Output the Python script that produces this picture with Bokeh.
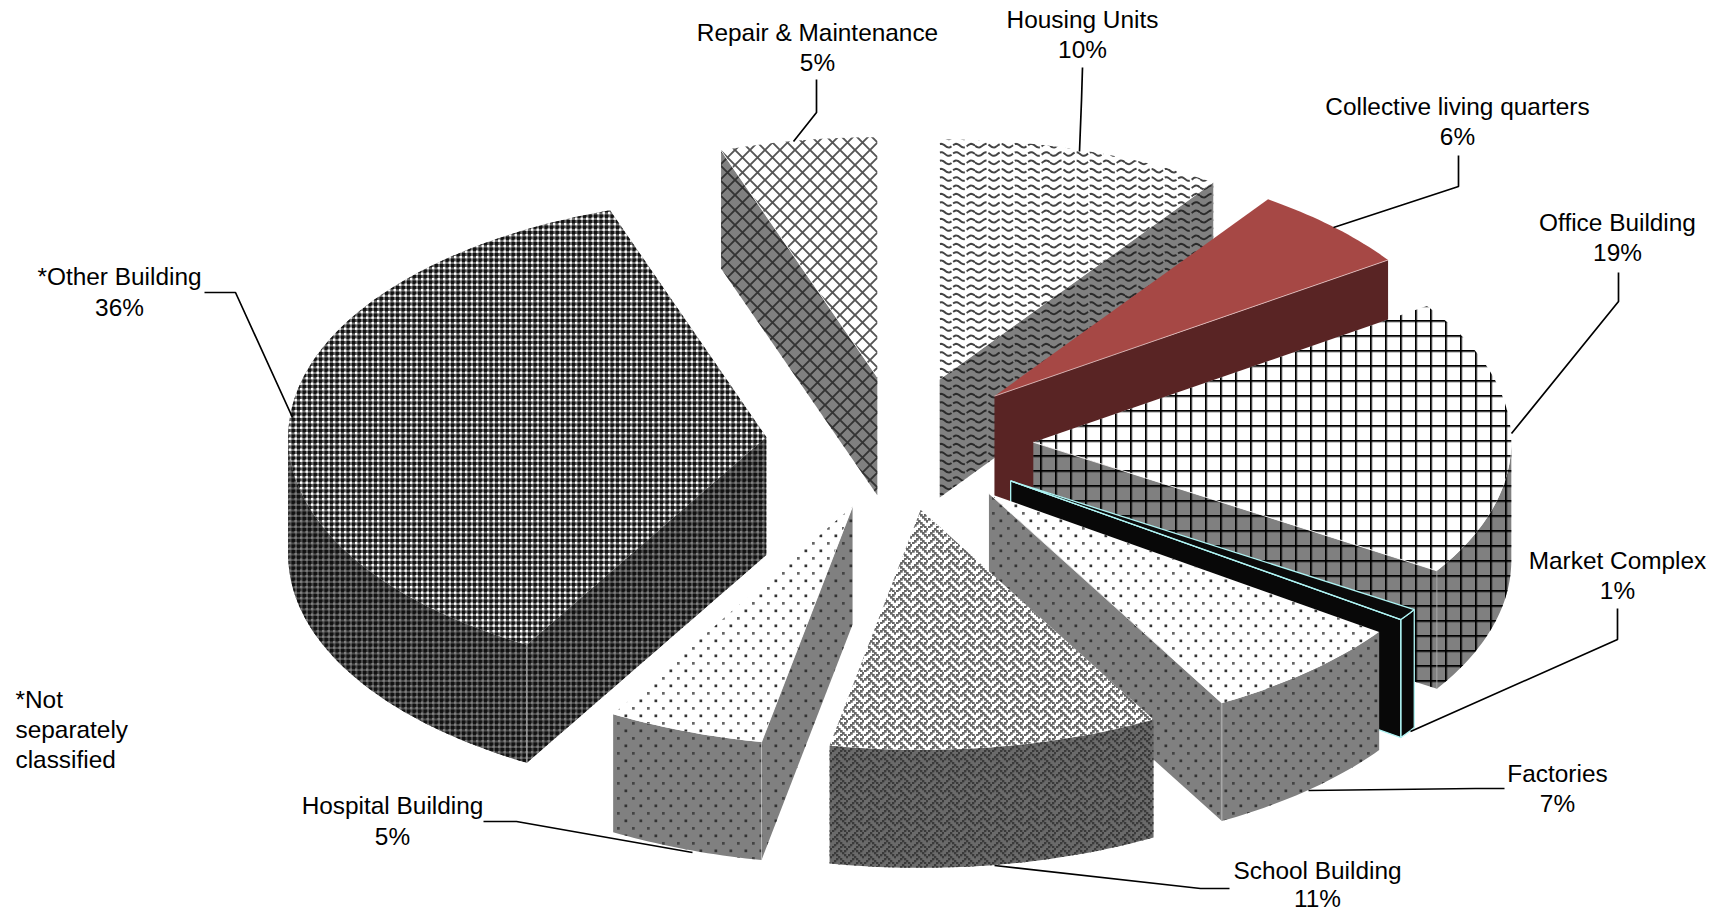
import math
from bokeh.plotting import figure
from bokeh.models import Range1d, CanvasTexture
from bokeh.core.properties import value
from bokeh.embed import file_html
from bokeh.resources import INLINE

# ---- data (clockwise from 12 o'clock) ----
categories = ["Housing Units", "Collective living quarters", "Office Building", "Market Complex",
              "Factories", "School Building", "Hospital Building", "*Other Building", "Repair & Maintenance"]
shares = [9.7, 5.7, 18.6, 0.8, 7.1, 11.15, 5.3, 36.35, 5.3]
pct_labels = ["10%", "6%", "19%", "1%", "7%", "11%", "5%", "36%", "5%"]
footnote = ["*Not", "separately", "classified"]

# ---- fill textures ----
def tile(n, body):
    return CanvasTexture(code=f"ctx.canvas.width={n};ctx.canvas.height={n};ctx.setTransform(1,0,0,1,0,0);" + body)

def tex_wave(col):
    return tile(75, f"""
ctx.strokeStyle='{col}';ctx.lineWidth=2;ctx.setLineDash([13,2]);
for(let r=0;r<9;r++){{const y0=r*75/9+4;ctx.beginPath();
for(let x=0;x<=75;x++){{const y=y0+1.8*Math.sin(2*Math.PI*x/15);if(x==0)ctx.moveTo(x,y);else ctx.lineTo(x,y);}}
ctx.stroke();}}""")

def tex_grid(col):
    return tile(15, f"""
ctx.fillStyle='rgba(0,0,0,0.3)';ctx.fillRect(0,6.7,15,1);ctx.fillRect(6.7,0,1,15);
ctx.fillStyle='{col}';ctx.fillRect(0,5,15,1.7);ctx.fillRect(5,0,1.7,15);""")

def tex_dots(col1, col2):
    return tile(15, f"""
ctx.fillStyle='{col1}';ctx.fillRect(2,2,2.7,2.7);ctx.fillStyle='{col2}';ctx.fillRect(9.5,9.5,2.7,2.7);""")

def tex_weave(col, size):
    return tile(16, f"""
const b=[0x11,0x2a,0x44,0xa2,0x11,0x28,0x44,0x8a];ctx.fillStyle='{col}';
for(let j=0;j<8;j++)for(let i=0;i<8;i++)if(b[j]&(0x80>>i))ctx.fillRect(i*2,j*2,{size},{size});""")

def tex_diamond(col):
    return tile(15, f"""
ctx.strokeStyle='{col}';ctx.lineWidth=1.9;ctx.beginPath();
ctx.moveTo(0,0);ctx.lineTo(15,15);ctx.moveTo(15,0);ctx.lineTo(0,15);ctx.stroke();""")

def tex_check(dark, light):
    return tile(11, f"""
for(let j=0;j<2;j++)for(let i=0;i<2;i++){{
ctx.fillStyle='{dark}';ctx.fillRect(i*5.5,j*5.5,3.4,3.4);
ctx.fillStyle='{light}';ctx.fillRect(i*5.5+3,j*5.5+3,2.4,2.4);}}""")

styles = {
    "Housing Units": dict(top="white", side="#808080", tt=tex_wave("#444444"), st=tex_wave("#2a2a2a"), seam=None, corner=None),
    "Collective living quarters": dict(top="#A64845", side="#592424", tt=None, st=None, seam="#E8C8C8", corner=None),
    "Office Building": dict(top="white", side="#808080", tt=tex_grid("black"), st=tex_grid("black"), seam="white", corner="#AAAAAA"),
    "Market Complex": dict(top="#0A0A0A", side="#080808", tt=None, st=None, seam="#AEF4F4", corner="#AEF4F4", outline="#AEF4F4"),
    "Factories": dict(top="white", side="#808080", tt=tex_dots("#666666", "#333333"), st=tex_dots("#444444", "#333333"), seam="white", corner="#C0C0C0"),
    "School Building": dict(top="white", side="#6A6A6A", tt=tex_weave("#666666", 2.7), st=tex_weave("#3A3A3A", 2.3), seam=None, corner=None),
    "Hospital Building": dict(top="white", side="#808080", tt=tex_dots("#666666", "#333333"), st=tex_dots("#444444", "#333333"), seam="white", corner="#C0C0C0"),
    "*Other Building": dict(top="#707070", side="#4A4A4A", tt=tex_check("#111111", "#FFFFFF"), st=tex_check("#111111", "#808080"), seam=None, corner="#BBBBBB"),
    "Repair & Maintenance": dict(top="white", side="#808080", tt=tex_diamond("#555555"), st=tex_diamond("#333333"), seam="white", corner=None),
}
draw_order = ["Repair & Maintenance", "Housing Units", "Collective living quarters", "Office Building",
              "Market Complex", "Factories", "School Building", "Hospital Building", "*Other Building"]

# ---- pie geometry in page pixels ----
CX, CY, RX, RY, EXPLODE, DEPTH = 900, 444, 478, 240, 0.28, 118

p = figure(width=1707, height=915, x_range=Range1d(1, 1708), y_range=Range1d(916, 1),
           output_backend="svg", toolbar_location=None, min_border=0, outline_line_color=None)
p.axis.visible = False
p.grid.visible = False
p.background_fill_color = "white"

def pt(theta, ax, ay, dz=0):
    t = math.radians(theta)
    return ax + RX * math.sin(t), ay - RY * math.cos(t) + dz

def poly(xy, fill, tex, outline=None):
    xs = [a for a, b in xy]
    ys = [b for a, b in xy]
    kw = dict(fill_color=fill, line_color=outline, line_width=1.3)
    if tex is not None:
        kw.update(hatch_pattern="tx", hatch_extra={"tx": tex}, hatch_scale=12, hatch_color="black")
    p.patch(xs, ys, **kw)

angles = {}
cum = 0.0
for c, s in zip(categories, shares):
    angles[c] = (cum * 3.6, (cum + s) * 3.6)
    cum += s

for c in draw_order:
    a0, a1 = angles[c]
    st = styles[c]
    out = st.get("outline")
    mid = math.radians((a0 + a1) / 2)
    ax = CX + EXPLODE * RX * math.sin(mid)
    ay = CY - EXPLODE * RY * math.cos(mid)
    corners = []
    for ang, visible in ((a1, math.sin(math.radians(a1)) > 0), (a0, math.sin(math.radians(a0)) < 0)):
        if visible:
            e = pt(ang, ax, ay)
            poly([(ax, ay), e, (e[0], e[1] + DEPTH), (ax, ay + DEPTH)], st["side"], st["st"], out)
            corners.append(e)
    r0, r1 = max(a0, 90), min(a1, 270)
    if r1 > r0:
        n = int(r1 - r0) + 2
        th = [r0 + (r1 - r0) * i / (n - 1) for i in range(n)]
        upper = [pt(t, ax, ay) for t in th]
        lower = [pt(t, ax, ay, DEPTH) for t in reversed(th)]
        poly(upper + lower, st["side"], st["st"], out)
    n = int(a1 - a0) + 2
    th = [a0 + (a1 - a0) * i / (n - 1) for i in range(n)]
    poly([(ax, ay)] + [pt(t, ax, ay) for t in th], st["top"], st["tt"], out)
    for e in corners:
        if st["seam"]:
            p.line([ax, e[0]], [ay, e[1]], line_color=st["seam"], line_width=0.8)
        if st["corner"]:
            p.line([e[0], e[0]], [e[1], e[1] + DEPTH], line_color=st["corner"], line_width=0.8)

# ---- labels and leaders ----
label_pos = {
    "Repair & Maintenance": (818, 33, 63), "Housing Units": (1083, 20, 50),
    "Collective living quarters": (1458, 107, 137), "Office Building": (1618, 223, 253),
    "Market Complex": (1618, 561, 591), "Factories": (1558, 774, 804),
    "School Building": (1318, 871, 899), "Hospital Building": (393, 806, 837),
    "*Other Building": (120, 277, 308),
}
leaders = {
    "Repair & Maintenance": [(817, 80), (817, 113), (794, 142)],
    "Housing Units": [(1083, 68), (1082, 101), (1080, 152)],
    "Collective living quarters": [(1459, 156), (1459, 187), (1334, 228)],
    "Office Building": [(1619, 273), (1619, 302), (1512, 434)],
    "Market Complex": [(1618, 609), (1618, 640), (1411, 732)],
    "Factories": [(1505, 789), (1476, 789), (1309, 791)],
    "School Building": [(1230, 889), (1201, 889), (995, 866)],
    "Hospital Building": [(484, 822), (517, 822), (693, 853)],
    "*Other Building": [(205, 293), (236, 293), (293, 418)],
}
FONT = value("Liberation Sans")
for c, pc in zip(categories, pct_labels):
    x, y1, y2 = label_pos[c]
    p.text([x, x], [y1, y2], text=[c, pc], text_font=FONT, text_font_size="24.4px", text_color="black",
           text_align="center", text_baseline="middle")
    L = leaders[c]
    p.line([a for a, b in L], [b for a, b in L], line_color="black", line_width=1.7)

p.text([16, 16, 16], [700, 730, 760], text=footnote, text_font=FONT, text_font_size="24.4px", text_color="black",
       text_align="left", text_baseline="middle")

open("out.html", "w").write(file_html(p, INLINE))
